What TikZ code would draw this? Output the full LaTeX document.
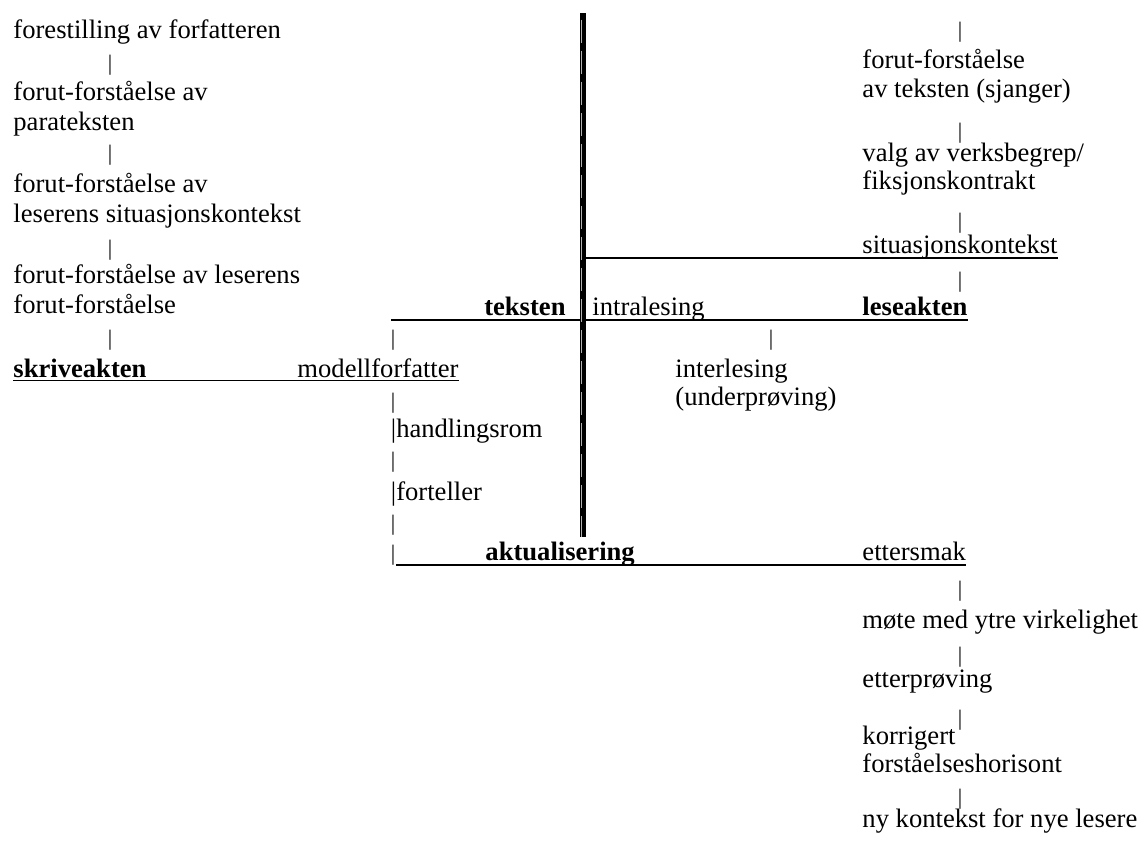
\documentclass[tikz,border=0pt]{standalone}
\usepackage{fontspec}
\setmainfont{Liberation Serif}
\begin{document}
\begin{tikzpicture}[x=0.451pt,y=-0.451pt,
    font=\fontsize{12}{13.8}\selectfont,
    lab/.style={anchor=base west,inner sep=0pt},
    vbar/.style={anchor=center,inner sep=0pt,font=\fontsize{10}{12}\selectfont},
    lnje/.style={line width=0.65pt}]
  \useasboundingbox (0,0) rectangle (1141,841);

  % skriveakten (venstre)
  \foreach \y/\t [count=\i] in {38/forestilling av forfatteren, 100/{forut-forståelse av},
      130/parateksten, 192/{forut-forståelse av}, 222/leserens situasjonskontekst,
      283/{forut-forståelse av leserens}, 313/forut-forståelse}
    \node[lab] (skr\i) at (13,\y) {\t};
  \foreach \y [count=\i] in {65,155,250,340}
    \node[vbar] (skrstrek\i) at (110,\y) {|};
  \node[lab] (skrive) at (13,377) {\textbf{skriveakten}};
  \node[lab] (modell) at (297,377) {modellforfatter};

  % modellforfatter ned til aktualisering
  \foreach \y [count=\i] in {340,403,462,525,555}
    \node[vbar] (modstrek\i) at (393,\y) {|};
  \node[lab] (handling) at (390.5,437) {|handlingsrom};
  \node[lab] (forteller) at (390.5,500) {|forteller};
  \node[lab] (aktual) at (485,560) {\textbf{aktualisering}};

  % teksten og leseakten
  \node[anchor=base east,inner sep=0pt] (teksten) at (566,315) {\textbf{teksten}};
  \node[lab] (intra) at (592,315) {intralesing};
  \node[lab] (lese) at (862,315) {\textbf{leseakten}};
  \node[vbar] (interstrek) at (771,340) {|};
  \node[lab] (inter1) at (675,377) {interlesing};
  \node[lab] (inter2) at (675,405) {(underprøving)};

  % leseakten (oppover)
  \foreach \y/\t [count=\i] in {68/forut-forståelse, 97/{av teksten (sjanger)},
      161/{valg av verksbegrep/}, 189/fiksjonskontrakt}
    \node[lab] (les\i) at (862,\y) {\t};
  \node[lab] (sit) at (862,253) {situasjonskontekst};
  \foreach \y [count=\i] in {32,133,223,282}
    \node[vbar] (lesstrek\i) at (960,\y) {|};

  % ettersmak (nedover)
  \node[lab] (etter) at (862,560) {ettersmak};
  \foreach \y/\t [count=\i] in {628/møte med ytre virkelighet, 687/etterprøving,
      744/korrigert, 772/forståelseshorisont, 827/ny kontekst for nye lesere}
    \node[lab] (ett\i) at (862,\y) {\t};
  \foreach \y [count=\i] in {591,657,720,799}
    \node[vbar] (ettstrek\i) at (960,\y) {|};

  % linjer
  \coordinate (tekstV) at (391,320);
  \coordinate (sitV) at (586,258);
  \coordinate (aktV) at (396,565);
  \draw[lnje] ([yshift=-1.5pt]skrive.base west) -- ([yshift=-1.5pt]modell.base east);
  \draw[lnje] (tekstV) -- (tekstV -| lese.east);
  \draw[lnje] (sitV) -- (sitV -| sit.east);
  \draw[lnje] (aktV) -- (aktV -| etter.east);

  % den doble midtlinjen
  \coordinate (midtopp) at (583,13);
  \coordinate (midbunn) at (583,537);
  \draw[line width=2.7pt] (midtopp) -- (midbunn);
  \draw[black!30,line width=0.45pt,dash pattern=on 10.4pt off 3.6pt]
    ([xshift=-0.5pt,yshift=-3pt]midtopp) -- ([xshift=-0.5pt]midbunn);
\end{tikzpicture}
\end{document}
